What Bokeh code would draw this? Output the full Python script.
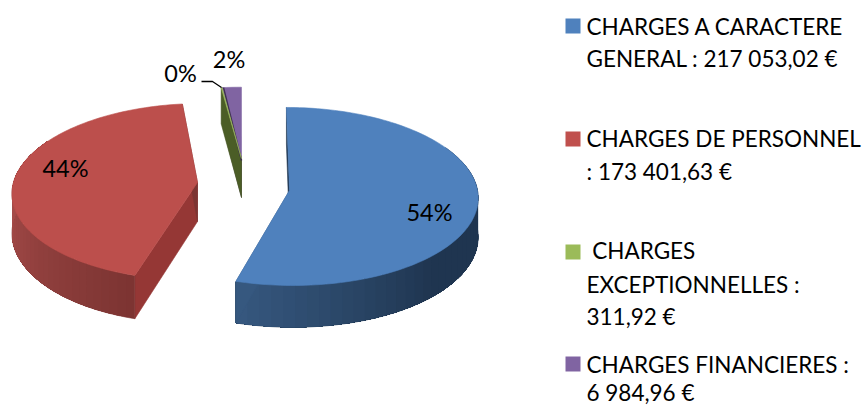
import math
from bokeh.plotting import figure
from bokeh.embed import file_html
from bokeh.resources import INLINE
from bokeh.core.properties import value

# ---- data ----
series_names = ["CHARGES A CARACTERE GENERAL", "CHARGES DE PERSONNEL",
                "CHARGES EXCEPTIONNELLES", "CHARGES FINANCIERES"]
series_values = [217053.02, 173401.63, 311.92, 6984.96]
pct_labels = ["54%", "44%", "0%", "2%"]
legend_1 = ["CHARGES A CARACTERE", "GENERAL : 217 053,02 €"]
legend_2 = ["CHARGES DE PERSONNEL", ": 173 401,63 €"]
legend_3 = ["\u00a0CHARGES", "EXCEPTIONNELLES :", "311,92 €"]
legend_4 = ["CHARGES FINANCIERES :", "6 984,96 €"]
top_colors = ["#4f81bd", "#bc4f4c", "#9bbb59", "#8064a2"]

# ---- layout (page pixels) ----
W, H = 864, 405
FONT = value("Lato")
CX = 240.0
DEPTH = 39.0
# apex x, apex y, radius x, radius y, perspective
apex = [(289.0, 190.0, 188.0, 88.6, 0.067), (197.0, 182.0, 184.0, 87.2, 0.104),
        (241.0, 158.0, 190.0, 77.0, 0.08), (241.0, 158.0, 190.0, 77.0, 0.08)]

p = figure(width=W, height=H, x_range=(0, W), y_range=(H, 0), toolbar_location=None,
           output_backend="svg", min_border=0, outline_line_color=None,
           x_axis_location=None, y_axis_location=None)
p.grid.visible = False
p.background_fill_color = "white"
p.border_fill_color = "white"


def project(i, t):
    ax, ay, rx, ry, k = apex[i]
    c, s = math.cos(t), math.sin(t)
    f = 1.0 / (1.0 + k * c)
    return (CX + (ax - CX + rx * s) * f, ay - ry * c * f, DEPTH * f)


def mix(a, b, u):
    u = max(0.0, min(1.0, u))
    pa = [int(a[j:j + 2], 16) for j in (1, 3, 5)]
    pb = [int(b[j:j + 2], 16) for j in (1, 3, 5)]
    return "#%02x%02x%02x" % tuple(round(x + (y - x) * u) for x, y in zip(pa, pb))


def poly(pts, color, line=True):
    p.patch([q[0] for q in pts], [q[1] for q in pts], fill_color=color,
            line_color=color if line else None, line_width=0.6)


total = sum(series_values)
starts, ends = [], []
acc = 0.0
for v in series_values:
    starts.append(acc / total * 2 * math.pi)
    acc += v
    ends.append(acc / total * 2 * math.pi)


def radial_face(i, t, color):
    ax, ay = apex[i][:2]
    x, y, d = project(i, t)
    poly([(ax, ay), (x, y), (x, y + d), (ax, ay + DEPTH)], color)


def side(i, t0, t1, col):
    # painted from t0 towards t1: each band reaches to the far end so no seam shows
    n = 40
    arc = [t0 + (t1 - t0) * j / 120 for j in range(121)]
    for j in range(n):
        a = t0 + (t1 - t0) * j / n
        rest = [t for t in arc if t >= a] if t1 > t0 else [t for t in arc if t <= a]
        rest = [a] + rest
        up = [project(i, t) for t in rest]
        pts = [(q[0], q[1]) for q in up] + [(q[0], q[1] + q[2]) for q in reversed(up)]
        poly(pts, col(a + (t1 - t0) / n / 2), line=(j == 0))


def top(i):
    ax, ay = apex[i][:2]
    n = max(4, int((ends[i] - starts[i]) * 40))
    pts = [(ax, ay)]
    for j in range(n + 1):
        q = project(i, starts[i] + (ends[i] - starts[i]) * j / n)
        pts.append((q[0], q[1]))
    poly(pts, top_colors[i])


# blue slice
radial_face(0, starts[0], "#1f3550")
side(0, math.radians(60), ends[0],
     lambda t: mix("#1f3550", "#36587f", (math.degrees(t) - 135) / 61))
radial_face(0, ends[0], "#36587f")
top(0)

# red slice
radial_face(1, starts[1], "#953735")
side(1, starts[1], math.radians(300),
     lambda t: mix("#7c3432", "#a54b49", (math.degrees(t) - starts[1] * 180 / math.pi) / 70))
radial_face(1, ends[1], "#7c3432")
top(1)

# purple and green slivers
radial_face(3, starts[3], "#3f3151")
radial_face(2, starts[2], "#4b5d26")
top(3)
rim = project(3, starts[3])
p.line([rim[0] + 1.5, apex[3][0]], [rim[1], apex[3][1] + 2], line_color="#3f3151", line_width=1.5)
top(2)

# leader line for the 0% label
p.line([201, 212, 221], [81, 81, 87], line_color="black", line_width=1.3)

# data labels
pct_x = [429, 65, 180, 228.5]
pct_y = [211, 167, 72, 58]
p.text(pct_x, pct_y, text=pct_labels, text_font=FONT, text_font_size="23.5px",
       text_align="center", text_baseline="alphabetic", text_color="black")

# legend
swatch_y = [18, 131, 244, 356]
for y0, c in zip(swatch_y, ["#4f81bd", "#c0504d", "#9bbb59", "#8064a2"]):
    p.patch([565, 580, 580, 565], [y0, y0, y0 + 15, y0 + 15], fill_color=c, line_color=None)

legend_lines = legend_1 + legend_2 + legend_3 + legend_4
legend_base = [26, 58, 138, 171, 250, 284, 316, 364, 392]
p.text([586] * len(legend_lines), legend_base, text=legend_lines, text_font=FONT,
       text_font_size="22.5px", text_align="left", text_baseline="alphabetic", text_color="black")

open("out.html", "w").write(file_html(p, INLINE))
